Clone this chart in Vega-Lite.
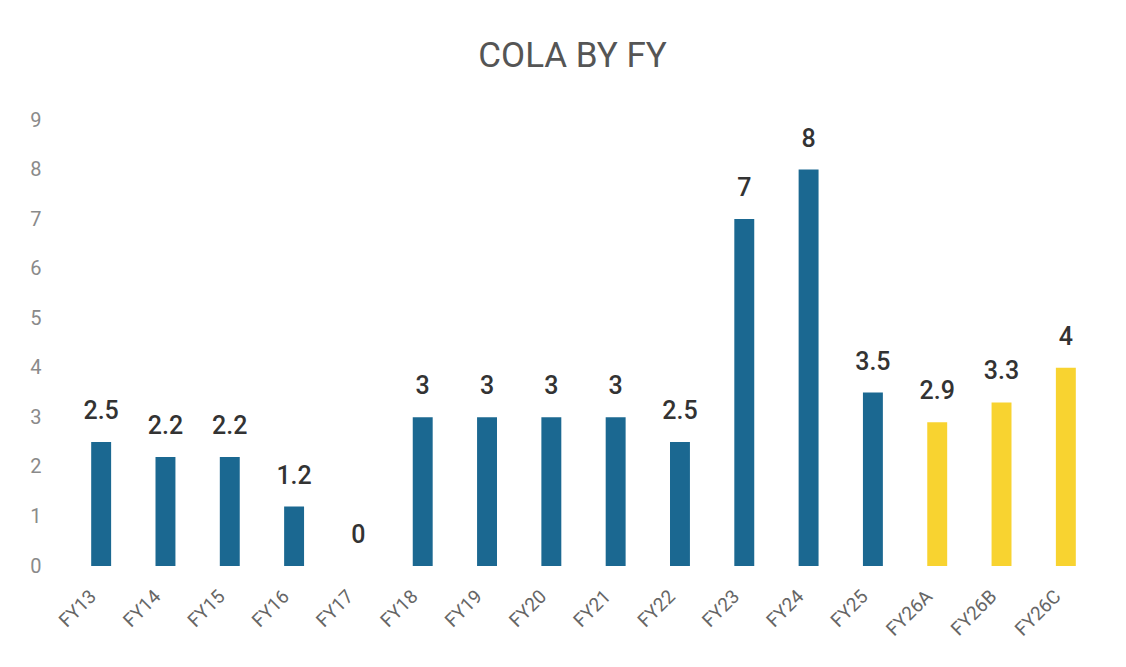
{
  "$schema": "https://vega.github.io/schema/vega-lite/v6.json",
  "width": 1029,
  "height": 446,
  "autosize": {"type": "none"},
  "padding": {"left": 69, "top": 120, "right": 28, "bottom": 101},
  "background": "white",
  "title": {"text": "COLA BY FY", "fontSize": 35, "fontWeight": "normal", "color": "#555555", "font": "Roboto", "offset": 36, "anchor": "middle", "dx": -11},
  "data": {"values": [
    {"fy": "FY13", "cola": 2.5, "kind": "actual"},
    {"fy": "FY14", "cola": 2.2, "kind": "actual"},
    {"fy": "FY15", "cola": 2.2, "kind": "actual"},
    {"fy": "FY16", "cola": 1.2, "kind": "actual"},
    {"fy": "FY17", "cola": 0, "kind": "actual"},
    {"fy": "FY18", "cola": 3, "kind": "actual"},
    {"fy": "FY19", "cola": 3, "kind": "actual"},
    {"fy": "FY20", "cola": 3, "kind": "actual"},
    {"fy": "FY21", "cola": 3, "kind": "actual"},
    {"fy": "FY22", "cola": 2.5, "kind": "actual"},
    {"fy": "FY23", "cola": 7, "kind": "actual"},
    {"fy": "FY24", "cola": 8, "kind": "actual"},
    {"fy": "FY25", "cola": 3.5, "kind": "actual"},
    {"fy": "FY26A", "cola": 2.9, "kind": "proposed"},
    {"fy": "FY26B", "cola": 3.3, "kind": "proposed"},
    {"fy": "FY26C", "cola": 4, "kind": "proposed"}
  ]},
  "encoding": {
    "x": {"field": "fy", "type": "nominal", "sort": null,
      "scale": {"paddingInner": 0.69, "paddingOuter": 0.345},
      "axis": {"title": null, "labelAngle": -45, "labelAlign": "right", "labelBaseline": "middle", "labelPadding": 27, "labelOffset": -8, "labelFontSize": 19, "labelColor": "#666666", "labelFont": "Roboto", "ticks": false, "domain": false}},
    "y": {"field": "cola", "type": "quantitative",
      "scale": {"domain": [0, 9]},
      "axis": {"title": null, "values": [0,1,2,3,4,5,6,7,8,9], "labelFontSize": 20, "labelColor": "#8a8a8a", "labelFont": "Roboto", "labelPadding": 28, "labelAlign": "right", "ticks": false, "domain": false, "grid": false}}
  },
  "layer": [
    {"mark": {"type": "bar"},
     "encoding": {"color": {"field": "kind", "type": "nominal", "scale": {"domain": ["actual", "proposed"], "range": ["#1b6891", "#f8d330"]}, "legend": null}}},
    {"mark": {"type": "text", "dy": -23, "baseline": "alphabetic", "fontSize": 25, "fontWeight": 500, "color": "#333333", "font": "Roboto"},
     "encoding": {"text": {"field": "cola", "type": "quantitative"}}}
  ],
  "config": {"view": {"stroke": null}}
}
